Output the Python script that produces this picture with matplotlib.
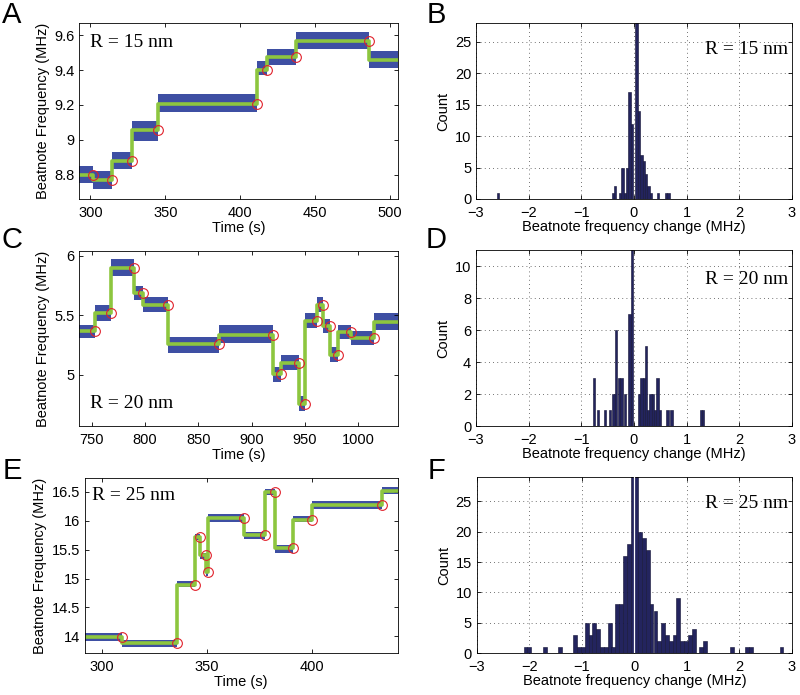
import numpy as np
import matplotlib
matplotlib.use("Agg")
import matplotlib.pyplot as plt

plt.rcParams['font.family'] = ['Liberation Sans', 'DejaVu Sans']
plt.rcParams['font.size'] = 10.5

# ---- time traces: step boundaries (s), step levels (MHz), noise band (MHz)
a_times = [292.5, 301.5, 314.5, 327.8, 345.4, 411.4, 417.8, 437.4, 486.0, 505.5]
a_levels = [8.80, 8.77, 8.876, 9.054, 9.207, 9.40, 9.476, 9.568, 9.457]
a_low = [8.75, 8.72, 8.83, 8.99, 9.16, 9.37, 9.43, 9.52, 9.41]
a_high = [8.85, 8.82, 8.93, 9.11, 9.26, 9.45, 9.52, 9.62, 9.51]

c_times = [738, 752.5, 768.2, 789.8, 797.6, 821.5, 869.7, 920.2, 928.1, 945.0,
           950.6, 961.6, 967.0, 974.1, 981.4, 993.0, 1014.9, 1038]
c_levels = [5.371, 5.517, 5.897, 5.684, 5.589, 5.26, 5.338, 5.008, 5.10, 4.751,
            5.45, 5.589, 5.413, 5.17, 5.358, 5.31, 5.441]
c_low = [5.31, 5.45, 5.83, 5.63, 5.53, 5.18, 5.27, 4.94, 5.04, 4.70,
         5.39, 5.53, 5.35, 5.11, 5.30, 5.25, 5.38]
c_high = [5.42, 5.59, 5.97, 5.75, 5.65, 5.32, 5.42, 5.07, 5.17, 4.82,
          5.52, 5.65, 5.47, 5.23, 5.42, 5.37, 5.52]

e_times = [292, 309.8, 335.9, 344.3, 346.7, 349.5, 350.9, 367.6, 377.8, 382.4,
           391.0, 400.2, 433.7, 441]
e_levels = [13.98, 13.88, 14.895, 15.72, 15.40, 15.11, 16.04, 15.75, 16.49, 15.52,
            16.02, 16.28, 16.52]
e_low = [13.92, 13.81, 14.85, 15.66, 15.33, 15.05, 15.98, 15.68, 16.44, 15.45,
         15.97, 16.21, 16.47]
e_high = [14.06, 13.94, 14.95, 15.77, 15.45, 15.17, 16.12, 15.81, 16.55, 15.58,
          16.09, 16.35, 16.58]

# ---- histograms: bin centres (MHz) and counts
b_centers = [-2.58, -0.40, -0.355, -0.265, -0.22, -0.175, -0.13, -0.085, -0.04,
             0.05, 0.095, 0.14, 0.185, 0.23, 0.275, 0.32, 0.455, 0.61, 0.655]
b_counts = [1, 1, 2, 1, 5, 1, 5, 17, 12, 28, 14, 7, 6, 4, 2, 1, 1, 1, 1]

d_centers = [-0.76, -0.68, -0.55, -0.46, -0.39, -0.34, -0.285, -0.24, -0.165,
             -0.085, -0.04, 0.095, 0.14, 0.185, 0.225, 0.27, 0.31, 0.355, 0.40,
             0.445, 0.49, 0.635, 0.71, 1.27, 1.31]
d_counts = [3, 1, 1, 1, 2, 6, 3, 3, 2, 7, 11, 2, 3, 3, 5, 1, 2, 2, 1, 3, 1, 1, 1, 1, 1]

f_centers = [-2.072, -1.999, -1.709, -1.417, -1.127, -1.054, -0.981, -0.909,
             -0.836, -0.763, -0.690, -0.618, -0.545, -0.472, -0.400, -0.327,
             -0.254, -0.182, -0.109, -0.036, 0.036, 0.109, 0.182, 0.254, 0.327,
             0.400, 0.472, 0.545, 0.618, 0.690, 0.763, 0.836, 0.909, 0.981,
             1.054, 1.127, 1.272, 1.345, 1.854, 2.145, 2.218, 2.799]
f_counts = [1, 1, 1, 1, 3, 1, 1, 5, 3, 5, 4, 1, 1, 5, 1, 8, 8, 16, 18, 30,
            30, 20, 19, 17, 8, 7, 2, 5, 3, 2, 3, 9, 2, 2, 3, 4, 1, 2, 1, 1, 1, 1]

blue = '#3e4fa3'
green = '#8dc63f'
navy = '#23245e'

fig = plt.figure(figsize=(8, 6.95), dpi=100)


def style(ax):
    ax.tick_params(direction='in', top=True, right=True, length=3, width=0.6)
    ax.tick_params(axis='x', pad=5)
    for s in ax.spines.values():
        s.set_linewidth(0.6)


def trace(rect, times, levels, low, high, xlim, ylim, xticks, yticks, yticklabels, label, tpos):
    ax = fig.add_axes(rect)
    ax.fill_between(times, low + [low[-1]], high + [high[-1]], step='post',
                    color=blue, lw=0, zorder=1)
    ax.step(times, levels + [levels[-1]], where='post', color=green, lw=2.6, zorder=2)
    ax.plot(times[1:-1], levels[:-1], 'o', mfc='none', mec='#e0202a', ms=7, mew=0.8, zorder=3)
    ax.set_xlim(xlim)
    ax.set_ylim(ylim)
    ax.set_xticks(xticks)
    ax.set_yticks(yticks)
    ax.set_yticklabels(yticklabels)
    ax.set_xlabel('Time (s)', labelpad=1)
    ax.set_ylabel('Beatnote Frequency (MHz)', labelpad=3)
    ax.text(tpos[0], tpos[1], label, transform=ax.transAxes, ha='left', va='center',
            family=['Liberation Serif', 'DejaVu Serif'], fontsize=14)
    style(ax)
    return ax


def hist(rect, centers, counts, ylim, yticks, label, tpos, width):
    ax = fig.add_axes(rect)
    ax.bar(centers, counts, width=width, color=navy, edgecolor='#111133', lw=0.4, zorder=2)
    ax.set_xlim(-3, 3)
    ax.set_ylim(ylim)
    ax.set_xticks([-3, -2, -1, 0, 1, 2, 3])
    ax.set_xticklabels(['\u22123', '\u22122', '\u22121', '0', '1', '2', '3'])
    ax.set_yticks(yticks)
    ax.grid(True, ls=(0, (1, 4)), color='#444444', lw=0.6, zorder=1)
    ax.set_axisbelow(True)
    ax.set_xlabel('Beatnote frequency change (MHz)', labelpad=0)
    ax.set_ylabel('Count', labelpad=3)
    ax.text(tpos[0], tpos[1], label, transform=ax.transAxes, ha='right', va='center',
            family=['Liberation Serif', 'DejaVu Serif'], fontsize=14)
    style(ax)
    return ax


trace([0.099, 0.7137, 0.399, 0.2532], a_times, a_levels, a_low, a_high,
      (292.5, 505.5), (8.66, 9.67), [300, 350, 400, 450, 500],
      [8.8, 9.0, 9.2, 9.4, 9.6], ['8.8', '9', '9.2', '9.4', '9.6'], 'R = 15 nm', (0.035, 0.89))
trace([0.099, 0.387, 0.399, 0.2518], c_times, c_levels, c_low, c_high,
      (738, 1038), (4.57, 6.04), [750, 800, 850, 900, 950, 1000],
      [5.0, 5.5, 6.0], ['5', '5.5', '6'], 'R = 20 nm', (0.035, 0.13))
trace([0.106, 0.0604, 0.391, 0.2518], e_times, e_levels, e_low, e_high,
      (292, 441), (13.71, 16.74), [300, 350, 400],
      [14, 14.5, 15, 15.5, 16, 16.5], ['14', '14.5', '15', '15.5', '16', '16.5'],
      'R = 25 nm', (0.022, 0.90))

hist([0.595, 0.7137, 0.395, 0.2532], b_centers, b_counts, (0, 28), [0, 5, 10, 15, 20, 25],
     'R = 15 nm', (0.987, 0.85), 0.045)
hist([0.595, 0.387, 0.395, 0.2532], d_centers, d_counts, (0, 11), [0, 2, 4, 6, 8, 10],
     'R = 20 nm', (0.987, 0.83), 0.045)
axf = hist([0.596, 0.0604, 0.394, 0.2532], f_centers, f_counts, (0, 29), [0, 5, 10, 15, 20, 25],
           'R = 25 nm', (0.987, 0.85), 0.0727)
axf.axvline(0, color='white', lw=0.9, zorder=3)

for letter, x, y in [('A', 12, 15), ('B', 436, 15), ('C', 12, 240), ('D', 436, 240),
                     ('E', 12, 471), ('F', 436, 471)]:
    fig.text(x / 800, 1 - y / 695, letter, fontsize=21, ha='center', va='center')

fig.savefig('out.png', dpi=100)
